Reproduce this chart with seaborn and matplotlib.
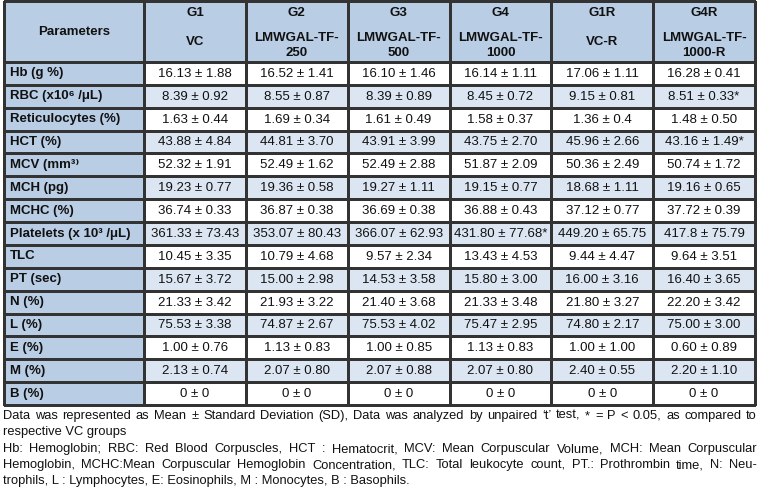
import matplotlib
matplotlib.use("Agg")
import matplotlib.pyplot as plt
from matplotlib.colors import ListedColormap
import numpy as np
import seaborn as sns

sns.set_theme(style="white")
plt.rcParams['font.family'] = ['Liberation Sans', 'DejaVu Sans']

# ---------------- data ----------------
parameters = ["Hb (g %)", "RBC (x10\u2076 /\u03bcL)", "Reticulocytes (%)", "HCT (%)",
              "MCV (mm\u00b3\u207e", "MCH (pg)", "MCHC (%)", "Platelets (x 10\u00b3 /\u03bcL)",
              "TLC", "PT (sec)", "N (%)", "L (%)", "E (%)", "M (%)", "B (%)"]
groups = ["G1", "G2", "G3", "G4", "G1R", "G4R"]
group_names = ["VC", "LMWGAL-TF-\n250", "LMWGAL-TF-\n500", "LMWGAL-TF-\n1000",
               "VC-R", "LMWGAL-TF-\n1000-R"]

g1_mean = ["16.13", "8.39", "1.63", "43.88", "52.32", "19.23", "36.74", "361.33", "10.45", "15.67", "21.33", "75.53", "1.00", "2.13", "0"]
g1_sd = ["1.88", "0.92", "0.44", "4.84", "1.91", "0.77", "0.33", "73.43", "3.35", "3.72", "3.42", "3.38", "0.76", "0.74", "0"]
g2_mean = ["16.52", "8.55", "1.69", "44.81", "52.49", "19.36", "36.87", "353.07", "10.79", "15.00", "21.93", "74.87", "1.13", "2.07", "0"]
g2_sd = ["1.41", "0.87", "0.34", "3.70", "1.62", "0.58", "0.38", "80.43", "4.68", "2.98", "3.22", "2.67", "0.83", "0.80", "0"]
g3_mean = ["16.10", "8.39", "1.61", "43.91", "52.49", "19.27", "36.69", "366.07", "9.57", "14.53", "21.40", "75.53", "1.00", "2.07", "0"]
g3_sd = ["1.46", "0.89", "0.49", "3.99", "2.88", "1.11", "0.38", "62.93", "2.34", "3.58", "3.68", "4.02", "0.85", "0.88", "0"]
g4_mean = ["16.14", "8.45", "1.58", "43.75", "51.87", "19.15", "36.88", "431.80", "13.43", "15.80", "21.33", "75.47", "1.13", "2.07", "0"]
g4_sd = ["1.11", "0.72", "0.37", "2.70", "2.09", "0.77", "0.43", "77.68", "4.53", "3.00", "3.48", "2.95", "0.83", "0.80", "0"]
g1r_mean = ["17.06", "9.15", "1.36", "45.96", "50.36", "18.68", "37.12", "449.20", "9.44", "16.00", "21.80", "74.80", "1.00", "2.40", "0"]
g1r_sd = ["1.11", "0.81", "0.4", "2.66", "2.49", "1.11", "0.77", "65.75", "4.47", "3.16", "3.27", "2.17", "1.00", "0.55", "0"]
g4r_mean = ["16.28", "8.51", "1.48", "43.16", "50.74", "19.16", "37.72", "417.8", "9.64", "16.40", "22.20", "75.00", "0.60", "2.20", "0"]
g4r_sd = ["0.41", "0.33", "0.50", "1.49", "1.72", "0.65", "0.39", "75.79", "3.51", "3.65", "3.42", "3.00", "0.89", "1.10", "0"]
# significance (* = P < 0.05): (row, column)
significant = [(7, 3), (1, 5), (3, 5)]

means = [g1_mean, g2_mean, g3_mean, g4_mean, g1r_mean, g4r_mean]
sds = [g1_sd, g2_sd, g3_sd, g4_sd, g1r_sd, g4r_sd]

footnote_lines = [
    ("Data was represented as Mean \u00b1 Standard Deviation (SD), Data was analyzed by unpaired \u2018t\u2019 test, * = P < 0.05, as compared to", True),
    ("respective VC groups", False),
    ("Hb: Hemoglobin; RBC: Red Blood Corpuscles, HCT : Hematocrit, MCV: Mean Corpuscular Volume, MCH: Mean Corpuscular", True),
    ("Hemoglobin, MCHC:Mean Corpuscular Hemoglobin Concentration, TLC: Total leukocyte count, PT.: Prothrombin time, N: Neu-", True),
    ("trophils, L : Lymphocytes, E: Eosinophils, M : Monocytes, B : Basophils.", False),
]

# ---------------- layout ----------------
W, H = 761, 487
fig = plt.figure(figsize=(W / 100, H / 100), dpi=100)

def px_axes(x0, y0, x1, y1):
    return fig.add_axes([x0 / W, 1 - y1 / H, (x1 - x0) / W, (y1 - y0) / H])

HEADER_BLUE = "#b9cde5"
ROW_LIGHT = "#dce6f2"
LINE = "#333333"
TXT = "#111111"
FS = 9.5

tx0, tx1 = 4, 755
col_split = 144
ty0, thead, ty1 = 1, 62, 405

n_rows = len(parameters)
n_cols = len(groups)

def table_block(ax, codes, colors):
    sns.heatmap(codes, ax=ax, cmap=ListedColormap(colors), vmin=-0.5, vmax=len(colors) - 0.5,
                cbar=False, linewidths=0.8, linecolor=LINE,
                xticklabels=False, yticklabels=False)
    ax.collections[0].set_clip_on(False)
    ax.set_xlabel("")
    ax.set_ylabel("")

# header left
ax_hl = px_axes(tx0, ty0, col_split, thead)
table_block(ax_hl, np.zeros((1, 1)), [HEADER_BLUE])
ax_hl.text(0.5, 0.51, "Parameters", ha="center", va="center", fontsize=FS,
           fontweight="bold", color=TXT)

# header right
ax_hr = px_axes(col_split, ty0, tx1, thead)
table_block(ax_hr, np.zeros((1, n_cols)), [HEADER_BLUE])
for j, (g, nm) in enumerate(zip(groups, group_names)):
    ax_hr.text(j + 0.5, 0.19, g, ha="center", va="center", fontsize=FS,
               fontweight="bold", color=TXT)
    lines = nm.split("\n")
    if len(lines) == 1:
        ax_hr.text(j + 0.5, 0.67, lines[0], ha="center", va="center", fontsize=FS,
                   fontweight="bold", color=TXT)
    else:
        ax_hr.text(j + 0.5, 0.61, lines[0], ha="center", va="center", fontsize=FS,
                   fontweight="bold", color=TXT)
        ax_hr.text(j + 0.5, 0.86, lines[1], ha="center", va="center", fontsize=FS,
                   fontweight="bold", color=TXT)

# body left
ax_bl = px_axes(tx0, thead, col_split, ty1)
table_block(ax_bl, np.zeros((n_rows, 1)), [HEADER_BLUE])
for i, p in enumerate(parameters):
    ax_bl.text(0.04, i + 0.5, p, ha="left", va="center", fontsize=FS,
               fontweight="bold", color=TXT)

# body right
ax_br = px_axes(col_split, thead, tx1, ty1)
codes = np.array([[i % 2] * n_cols for i in range(n_rows)], dtype=float)
table_block(ax_br, codes, ["white", ROW_LIGHT])
for j in range(n_cols):
    for i in range(n_rows):
        star = "*" if (i, j) in significant else ""
        ax_br.text(j + 0.5, i + 0.52, f"{means[j][i]} \u00b1 {sds[j][i]}{star}",
                   ha="center", va="center", fontsize=FS, color=TXT)

# ---------------- footnote (justified) ----------------
renderer = fig.canvas.get_renderer()
foot_family = ["Liberation Sans Narrow", "Liberation Sans", "DejaVu Sans"]
foot_fs = 9.3
fx0, fx1 = 3, 757
line_y = [416, 432, 449, 465, 481]
for (line, just), y in zip(footnote_lines, line_y):
    yf = 1 - y / H
    if not just:
        fig.text(fx0 / W, yf, line, ha="left", va="center", fontsize=foot_fs,
                 family=foot_family, color=TXT)
        continue
    words = line.split(" ")
    objs = [fig.text(0, yf, w, ha="left", va="center", fontsize=foot_fs,
                     family=foot_family, color=TXT) for w in words]
    widths = [o.get_window_extent(renderer).width for o in objs]
    gap = ((fx1 - fx0) - sum(widths)) / (len(words) - 1)
    x = fx0
    for o, wdt in zip(objs, widths):
        o.set_x(x / W)
        x += wdt + gap

fig.savefig("out.png", dpi=100)
